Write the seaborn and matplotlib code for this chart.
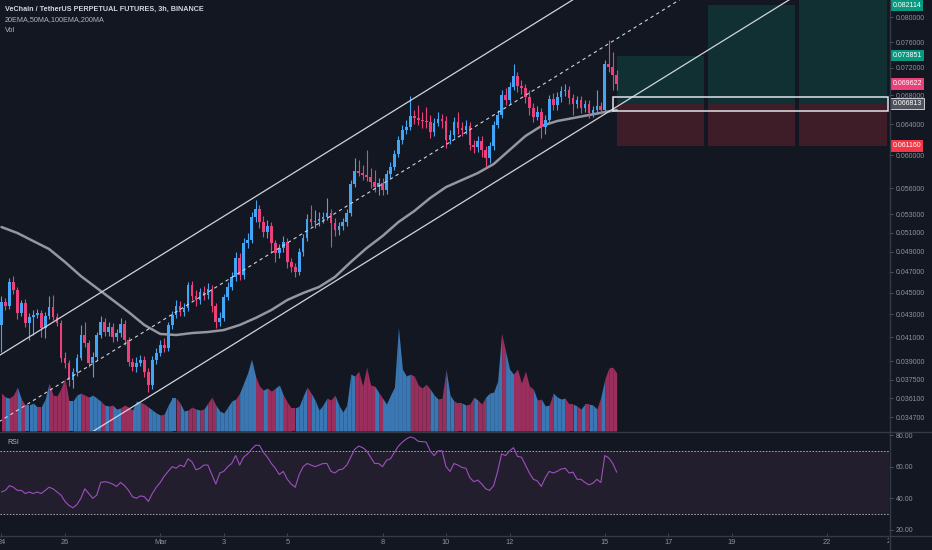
import numpy as np
import pandas as pd
import matplotlib
matplotlib.use("Agg")
import matplotlib.pyplot as plt
import seaborn as sns
from matplotlib.patches import Rectangle
from matplotlib.lines import Line2D
from matplotlib.ticker import FixedLocator, NullLocator, FormatStrFormatter
from matplotlib.transforms import Bbox, TransformedBbox

# VETUSDT perp, 3h candles, x = days since 24 Feb 00:00
first_open = 0.04206
close = [
    0.04414, 0.04377, 0.04602, 0.04525, 0.04313, 0.04404, 0.04224, 0.04277,
    0.04295, 0.04313, 0.04180, 0.04286, 0.04368, 0.04277, 0.04224, 0.03925,
    0.03885, 0.03749, 0.03813, 0.03925, 0.04119, 0.04051, 0.03885, 0.03934,
    0.04119, 0.04232, 0.04145, 0.04188, 0.04102, 0.04136, 0.04215, 0.04076,
    0.03893, 0.03853, 0.03885, 0.03909, 0.03813, 0.03710, 0.03909, 0.03967,
    0.04034, 0.04009, 0.04206, 0.04295, 0.04377, 0.04322, 0.04358, 0.04573,
    0.04469, 0.04432, 0.04506, 0.04478, 0.04535, 0.04377, 0.04232, 0.04268,
    0.04460, 0.04554, 0.04650, 0.04838, 0.04669, 0.04992, 0.05024, 0.05271,
    0.05360, 0.05216, 0.05108, 0.05173, 0.04992, 0.04889, 0.04940, 0.05003,
    0.04798, 0.04748, 0.04698, 0.04900, 0.05045, 0.05249, 0.05216, 0.05227,
    0.05249, 0.05271, 0.05315, 0.05205, 0.05130, 0.05173, 0.05216, 0.05315,
    0.05648, 0.05803, 0.05779, 0.05755, 0.05731, 0.05671, 0.05612, 0.05660,
    0.05577, 0.05767, 0.05852, 0.06014, 0.06192, 0.06323, 0.06362, 0.06510,
    0.06483, 0.06456, 0.06443, 0.06429, 0.06296, 0.06416, 0.06470, 0.06443,
    0.06192, 0.06257, 0.06429, 0.06349, 0.06323, 0.06376, 0.06127, 0.06102,
    0.06179, 0.06064, 0.05963, 0.06115, 0.06389, 0.06524, 0.06803, 0.06732,
    0.06918, 0.07079, 0.06932, 0.06904, 0.06775, 0.06621, 0.06497, 0.06565,
    0.06362, 0.06456, 0.06746, 0.06662, 0.06775, 0.06861, 0.06875, 0.06761,
    0.06676, 0.06732, 0.06621, 0.06676, 0.06551, 0.06593, 0.06648, 0.06593,
    0.07259, 0.07214, 0.07094, 0.06962,
]
high = [
    0.04469, 0.04451, 0.04640, 0.04659, 0.04554, 0.04432, 0.04441, 0.04313,
    0.04340, 0.04349, 0.04340, 0.04322, 0.04469, 0.04478, 0.04313, 0.04250,
    0.03975, 0.03909, 0.03845, 0.03959, 0.04206, 0.04232, 0.04076, 0.03975,
    0.04145, 0.04286, 0.04268, 0.04232, 0.04224, 0.04171, 0.04268, 0.04250,
    0.04102, 0.03925, 0.03934, 0.03950, 0.03942, 0.03845, 0.03942, 0.04009,
    0.04076, 0.04093, 0.04232, 0.04331, 0.04432, 0.04423, 0.04404, 0.04602,
    0.04611, 0.04525, 0.04544, 0.04563, 0.04592, 0.04573, 0.04404, 0.04322,
    0.04488, 0.04602, 0.04698, 0.04900, 0.04889, 0.05045, 0.05097, 0.05327,
    0.05462, 0.05405, 0.05282, 0.05238, 0.05216, 0.05024, 0.04982, 0.05066,
    0.05045, 0.04838, 0.04788, 0.04940, 0.05087, 0.05304, 0.05405, 0.05349,
    0.05327, 0.05327, 0.05484, 0.05360, 0.05260, 0.05216, 0.05260, 0.05360,
    0.05695, 0.05963, 0.05938, 0.05877, 0.06064, 0.05840, 0.05815, 0.05719,
    0.05719, 0.05815, 0.05913, 0.06064, 0.06244, 0.06389, 0.06456, 0.06789,
    0.06593, 0.06662, 0.06565, 0.06634, 0.06524, 0.06483, 0.06565, 0.06538,
    0.06510, 0.06323, 0.06497, 0.06565, 0.06429, 0.06456, 0.06429, 0.06192,
    0.06244, 0.06244, 0.06115, 0.06166, 0.06443, 0.06593, 0.06875, 0.06904,
    0.06990, 0.07259, 0.07142, 0.07020, 0.06961, 0.06875, 0.06690, 0.06648,
    0.06621, 0.06524, 0.06803, 0.06832, 0.06847, 0.06932, 0.06961, 0.06932,
    0.06818, 0.06789, 0.06789, 0.06732, 0.06732, 0.06648, 0.06875, 0.06704,
    0.07320, 0.07630, 0.07436, 0.07168,
]
low = [
    0.03975, 0.04340, 0.04349, 0.04488, 0.04259, 0.04286, 0.04188, 0.04076,
    0.04119, 0.04268, 0.04102, 0.04093, 0.04259, 0.04250, 0.04197, 0.03893,
    0.03845, 0.03702, 0.03687, 0.03781, 0.03909, 0.04017, 0.03853, 0.03773,
    0.03909, 0.04093, 0.04110, 0.04110, 0.04059, 0.04068, 0.04102, 0.04034,
    0.03861, 0.03821, 0.03813, 0.03861, 0.03773, 0.03657, 0.03680, 0.03877,
    0.03942, 0.03975, 0.03984, 0.04171, 0.04268, 0.04286, 0.04286, 0.04331,
    0.04432, 0.04377, 0.04395, 0.04432, 0.04441, 0.04322, 0.04180, 0.04197,
    0.04241, 0.04432, 0.04525, 0.04611, 0.04621, 0.04631, 0.04940, 0.04992,
    0.05216, 0.05151, 0.05055, 0.05045, 0.04900, 0.04798, 0.04838, 0.04900,
    0.04738, 0.04698, 0.04650, 0.04669, 0.04859, 0.05013, 0.05173, 0.05151,
    0.05173, 0.05205, 0.05238, 0.04951, 0.05066, 0.05076, 0.05130, 0.05173,
    0.05282, 0.05612, 0.05743, 0.05695, 0.05683, 0.05600, 0.05554, 0.05519,
    0.05519, 0.05531, 0.05719, 0.05815, 0.05976, 0.06140, 0.06270, 0.06323,
    0.06402, 0.06389, 0.06349, 0.06349, 0.06218, 0.06244, 0.06376, 0.06349,
    0.06089, 0.06140, 0.06218, 0.06270, 0.06244, 0.06270, 0.06064, 0.06026,
    0.06039, 0.05976, 0.05852, 0.05901, 0.06064, 0.06349, 0.06483, 0.06662,
    0.06676, 0.06875, 0.06847, 0.06818, 0.06690, 0.06524, 0.06429, 0.06456,
    0.06218, 0.06270, 0.06402, 0.06593, 0.06593, 0.06704, 0.06789, 0.06676,
    0.06524, 0.06621, 0.06551, 0.06565, 0.06483, 0.06497, 0.06538, 0.06538,
    0.06551, 0.07142, 0.06875, 0.06875,
]
volume = [
    38, 34, 33, 36, 44, 32, 26, 26, 28, 24, 24, 32, 48, 36, 35, 43,
    53, 30, 30, 36, 38, 36, 34, 36, 33, 30, 26, 25, 26, 22, 23, 26,
    24, 21, 30, 29, 27, 24, 21, 18, 16, 17, 26, 33, 33, 28, 20, 21,
    24, 22, 21, 22, 28, 34, 26, 20, 18, 24, 30, 32, 38, 48, 58, 72,
    55, 45, 41, 43, 40, 43, 46, 36, 29, 23, 23, 25, 35, 44, 38, 31,
    21, 26, 33, 31, 36, 26, 19, 26, 57, 55, 60, 45, 64, 46, 45, 39,
    33, 27, 36, 44, 104, 62, 55, 57, 55, 46, 43, 47, 42, 36, 32, 33,
    62, 36, 30, 28, 28, 26, 27, 34, 31, 27, 34, 38, 39, 50, 98, 80,
    62, 57, 62, 48, 60, 45, 42, 31, 32, 25, 26, 38, 34, 32, 33, 27,
    27, 25, 22, 27, 27, 26, 22, 34, 52, 63, 64, 58,
]
rsi = [
    44, 45, 48, 47, 45, 45, 43, 44, 43, 44, 43, 45, 47, 46, 44, 42,
    38, 35.5, 34, 36, 40, 46, 43, 40, 42, 50, 50.5, 50, 49, 47.5, 50, 48,
    45, 41, 40, 41.5, 41, 38, 43, 47, 50, 54, 57, 60, 59, 61, 60, 65,
    63, 58, 59, 61, 61, 55, 49, 56, 57, 60, 62, 67, 61, 66, 68, 71,
    73.5, 73.5, 69, 66, 62, 59, 55, 57, 52, 49, 47, 55, 60, 62, 61, 60,
    61, 62, 62, 57, 56, 58, 58.5, 61, 66, 71, 73, 72, 70, 66, 62, 62,
    60, 64, 65, 69, 73, 75.5, 77.5, 78.8, 78, 76, 75.8, 75.5, 70, 67, 70, 70,
    60, 57, 62, 61, 59.5, 59, 53, 50.5, 51.5, 49, 46, 45, 48, 57, 68, 67,
    70, 72, 66.5, 66, 61, 56, 52, 51, 47.5, 53, 57, 56, 57, 58.5, 59, 56,
    56.5, 52, 52, 50, 48.5, 49.5, 52, 50, 67, 65.5, 62, 56.5,
]
# gray moving average, read every 4th candle (plus the last one)
ma_idx = list(range(0, 153, 4)) + [155]
ma = [
    0.05162, 0.05098, 0.05013, 0.04930, 0.04798, 0.04659, 0.04544, 0.04432,
    0.04322, 0.04206, 0.04128, 0.04119, 0.04136, 0.04145, 0.04162, 0.04206,
    0.04268, 0.04340, 0.04432, 0.04497, 0.04554, 0.04650, 0.04798, 0.04940,
    0.05066, 0.05216, 0.05338, 0.05485, 0.05612, 0.05695, 0.05779, 0.05889,
    0.06064, 0.06244, 0.06376, 0.06443, 0.06483, 0.06524, 0.06565, 0.06593,
]
# parallel channel (extended lines), anchors in (day, price)
chan_days = [-1, 30]
chan_upper = [0.03798, 0.1361]
chan_mid = [0.03308, 0.1185]
chan_lower = [0.02870, 0.1028]
# three long-position tools
pos_start = [19.375, 22.25, 25.125]
pos_end = [22.125, 25.0, 27.875]
pos_target = [0.073851, 0.082114, 0.0905]
entry = 0.066813
stop = 0.061160
zone_days = [19.27, 27.92]
zone_prices = [0.06580, 0.06780]

price_ticks = [0.0347, 0.0361, 0.0375, 0.039, 0.041, 0.043, 0.045, 0.047, 0.049,
               0.051, 0.053, 0.056, 0.060, 0.064, 0.068, 0.072, 0.076, 0.080]
rsi_ticks = [20, 40, 60, 80]
date_ticks = [0, 2, 5, 7, 9, 12, 14, 16, 19, 21, 23, 26]
date_labels = ["24", "26", "Mar", "3", "5", "8", "10", "12", "15", "17", "19", "22"]

BG = "#131722"
UP, DOWN = "#42a5f5", "#ec407a"
VOL_UP, VOL_DOWN = "#3a78b5", "#9a2f5e"
TXT = "#8f929b"
GRID = "#363a45"

sns.set_theme(style="dark", rc={"axes.facecolor": BG, "figure.facecolor": BG})
plt.rcParams["font.family"] = ["Liberation Sans", "DejaVu Sans"]

n = len(close)
t = np.arange(n) * 0.125
df = pd.DataFrame({"t": t, "open": [first_open] + close[:-1], "high": high,
                   "low": low, "close": close, "volume": volume, "rsi": rsi})
df["up"] = df["close"] >= df["open"]

W, H = 932, 550
fig = plt.figure(figsize=(W / 100, H / 100), dpi=100, facecolor=BG)


def px_box(x0, y0, x1, y1):
    return [x0 / W, 1 - y1 / H, (x1 - x0) / W, (y1 - y0) / H]


ax_vol = fig.add_axes(px_box(0, 0, 889, 431))
ax = fig.add_axes(px_box(0, 0, 889, 431), sharex=ax_vol)
ax_rsi = fig.add_axes(px_box(0, 432, 889, 535))
ax.patch.set_visible(False)
xlim = (-0.047, 27.95)

# volume area, coloured per bar
vcol = np.where(df["up"], VOL_UP, VOL_DOWN)
for i in range(1, n):
    ax_vol.fill_between(t[i - 1:i + 1], 0, df["volume"].values[i - 1:i + 1],
                        color=vcol[i], lw=0)
ax_vol.set_ylim(0, max(volume) * 4.15)
ax_vol.set_xlim(*xlim)
ax_vol.set_xticks([])
ax_vol.set_yticks([])

# price pane
ax.set_yscale("log")
ax.set_ylim(0.03370, 0.08298)
ax.set_xlim(*xlim)

for s, e, tg in zip(pos_start, pos_end, pos_target):
    ax.add_patch(Rectangle((s, entry), e - s, tg - entry, fc="#089981", alpha=0.2, lw=0, zorder=1))
    ax.add_patch(Rectangle((s, stop), e - s, entry - stop, fc="#f23645", alpha=0.2, lw=0, zorder=1))

sns.lineplot(x=t[ma_idx], y=ma, ax=ax, color="#94979f", lw=1.8, zorder=2, legend=False)

ccol = np.where(df["up"], UP, DOWN)
ax.vlines(df["t"], df["low"], df["high"], colors=ccol, lw=0.8, zorder=3)
ax.bar(df["t"], (df["close"] - df["open"]).abs(), bottom=df[["open", "close"]].min(axis=1),
       width=0.085, color=ccol, lw=0, zorder=4)

ax.plot(chan_days, chan_upper, color="#d1d4dc", lw=0.9, zorder=5)
ax.plot(chan_days, chan_lower, color="#d1d4dc", lw=0.9, zorder=5)
ax.plot(chan_days, chan_mid, color="#d1d4dc", lw=0.8, dashes=(3, 3), zorder=5)
ax.add_patch(Rectangle((zone_days[0], zone_prices[0]), zone_days[1] - zone_days[0],
                       zone_prices[1] - zone_prices[0], fill=False, ec="#e0e3eb", lw=1.1, zorder=6))

ax.yaxis.tick_right()
ax.yaxis.set_major_locator(FixedLocator(price_ticks))
ax.yaxis.set_minor_locator(NullLocator())
ax.yaxis.set_major_formatter(FormatStrFormatter("%.6f"))
ax.tick_params(axis="y", which="major", right=True, length=3, width=0.6, color="#5d606b",
               labelsize=5, labelcolor=TXT, pad=2)
ax.tick_params(axis="x", bottom=False, labelbottom=False)

badges = [(0.082114, "#089981", "none"), (0.073851, "#089981", "none"),
          (0.069622, "#ec407a", "none"), (entry, "#50535e", "#e0e3eb"),
          (stop, "#f23645", "none")]
for val, fc, ec in badges:
    ax.text(1.004, val, f"{val:.6f}", transform=ax.get_yaxis_transform(), ha="left",
            va="center", fontsize=5, color="white", clip_on=False, zorder=10,
            bbox=dict(boxstyle="square,pad=0.3", fc=fc, ec=ec, lw=0.6))

# RSI pane
ax_rsi.axhspan(30, 70, color="#231e2e", lw=0)
for lvl in (70, 30):
    ax_rsi.axhline(lvl, color="#a3a6af", lw=0.7, dashes=(1.6, 1.6))
sns.lineplot(x=df["t"], y=df["rsi"], ax=ax_rsi, color="#9d4fbd", lw=0.8, legend=False)
ax_rsi.set_xlim(*xlim)
ax_rsi.set_ylim(16.8, 81.9)
ax_rsi.set_xlabel("")
ax_rsi.set_ylabel("")
ax_rsi.yaxis.tick_right()
ax_rsi.set_yticks(rsi_ticks)
ax_rsi.yaxis.set_major_formatter(FormatStrFormatter("%.2f"))
ax_rsi.tick_params(axis="y", right=True, length=3, width=0.6, color="#5d606b",
                   labelsize=5, labelcolor=TXT, pad=2)
ax_rsi.set_xticks(date_ticks)
ax_rsi.set_xticklabels(date_labels)
ax_rsi.tick_params(axis="x", bottom=True, direction="inout", length=3, width=0.6,
                   color="#4a4e59", labelsize=5.3, labelcolor=TXT, pad=1.5)
last = ax_rsi.text(28, -0.03, "24", transform=ax_rsi.get_xaxis_transform(), ha="center",
                   va="top", fontsize=5.3, color=TXT)
last.set_clip_box(TransformedBbox(Bbox([[0, 0], [889 / W, 1]]), fig.transFigure))
last.set_clip_on(True)

for a in (ax, ax_vol, ax_rsi):
    for sp in a.spines.values():
        sp.set_visible(False)
    a.grid(False)

# pane separators
fig.add_artist(Line2D([0, 1], [1 - 431.5 / H] * 2, color=GRID, lw=1))
fig.add_artist(Line2D([0, 1], [1 - 535.5 / H] * 2, color=GRID, lw=1))
fig.add_artist(Line2D([889.5 / W] * 2, [1 - 550 / H, 1], color=GRID, lw=1))

fig.text(5 / W, 1 - 9 / H, "VeChain / TetherUS PERPETUAL FUTURES, 3h, BINANCE",
         fontsize=5.2, fontweight="bold", color="#d1d4dc", va="center")
fig.text(5 / W, 1 - 20 / H, "20EMA,50MA,100EMA,200MA", fontsize=5.2, color="#b2b5be", va="center")
fig.text(5 / W, 1 - 30 / H, "Vol", fontsize=5.2, color="#b2b5be", va="center")
fig.text(7 / W, 1 - 442 / H, "RSI", fontsize=5, color="#b2b5be", va="center")

fig.savefig("out.png", dpi=100, facecolor=BG)
